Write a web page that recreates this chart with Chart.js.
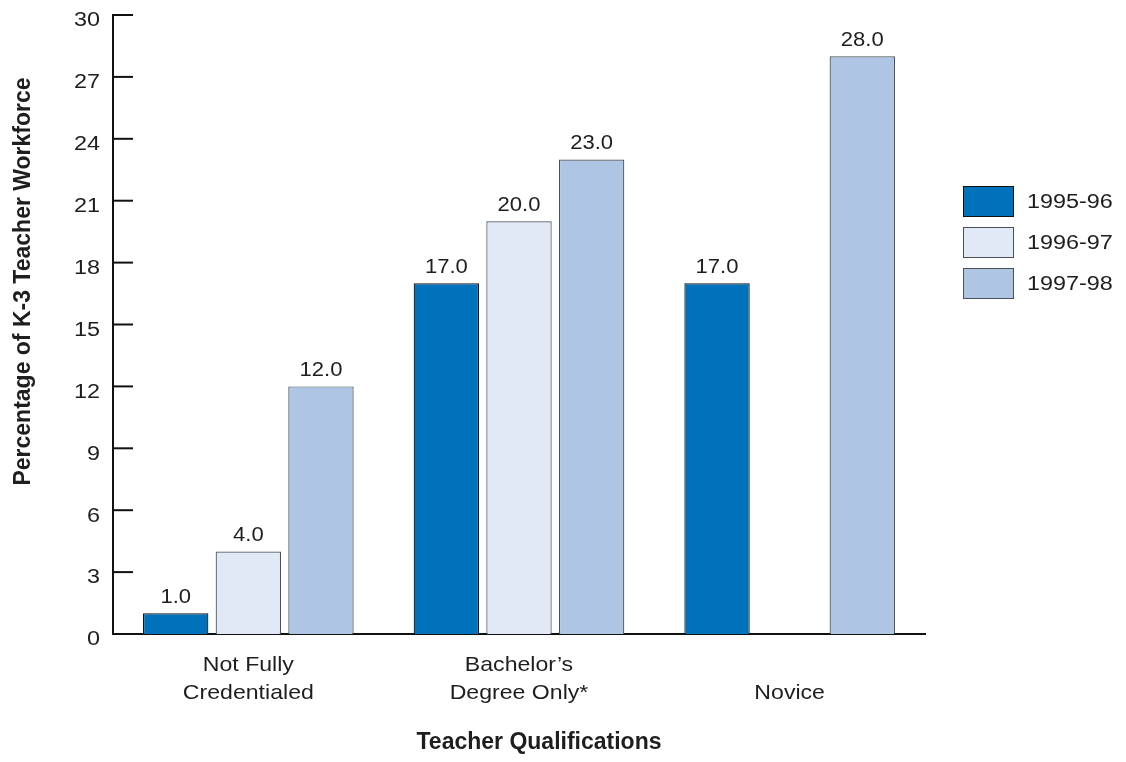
<!DOCTYPE html>
<html>
<head>
<meta charset="utf-8">
<script src="https://cdn.jsdelivr.net/npm/chart.js@4/dist/chart.umd.min.js"></script>
<style>
  html, body { margin: 0; padding: 0; background: #fff; }
  #wrap { position: relative; width: 1126px; height: 762px; }
  #legend { position: absolute; left: 963px; top: 186px;
            font: 20px "Liberation Sans", Arial, Helvetica, sans-serif; color: #1e1e1e; }
  .item { display: flex; align-items: center; height: 31px; margin-bottom: 10px; }
  .swatch { box-sizing: border-box; width: 51px; height: 31px; border: 1.5px solid #3a3f47; margin-right: 13px; }
  .item span { display: inline-block; transform: scaleX(1.17); transform-origin: left center; }
</style>
</head>
<body>
<div id="wrap">
  <canvas id="chart" width="1126" height="762"></canvas>
  <div id="legend"></div>
</div>
<script>
// Teacher qualification categories (multi-line axis labels)
const categories = [["Not Fully", "Credentialed"], ["Bachelor’s", "Degree Only*"], ["", "Novice"]];
const seriesNames = ["1995-96", "1996-97", "1997-98"];

// Percentage of K-3 teacher workforce per school year
const values9596 = [1.0, 17.0, 17.0];
const values9697 = [4.0, 20.0, null];
const values9798 = [12.0, 23.0, 28.0];

// Value axis ticks
const yMin = 0;
const yMax = 30;
const yStep = 3;

const fillColors = ["#0072bc", "#e2e9f6", "#aec6e4"];
const edgeColors = ["#111111", "#4a5058", "#4a5058"];
const FONT = '"Liberation Sans", Arial, Helvetica, sans-serif';
const TEXT = "#1e1e1e";

Chart.defaults.font.family = FONT;
Chart.defaults.color = TEXT;

// Draws text with a slightly widened letterform
function wideText(ctx, text, x, y, align, sx) {
  ctx.save();
  ctx.translate(x, y);
  ctx.scale(sx, 1);
  ctx.textAlign = align;
  ctx.fillText(text, 0, 0);
  ctx.restore();
}

// Value-axis tick marks (pointing into the plot) and their labels
const valueAxis = {
  id: "valueAxis",
  afterDraw(chart) {
    const y = chart.scales.y;
    const ctx = chart.ctx;
    ctx.save();
    ctx.strokeStyle = "#111";
    ctx.lineWidth = 2;
    ctx.font = "19.5px " + FONT;
    ctx.fillStyle = TEXT;
    ctx.textBaseline = "middle";
    y.ticks.forEach(t => {
      const py = y.getPixelForValue(t.value);
      ctx.beginPath();
      ctx.moveTo(y.right, py);
      ctx.lineTo(y.right + 20, py);
      ctx.stroke();
      wideText(ctx, String(t.value), y.right - 13, py + 6, "right", 1.2);
    });
    ctx.restore();
  }
};

// Category labels under each group
const categoryAxis = {
  id: "categoryAxis",
  afterDraw(chart) {
    const x = chart.scales.x;
    const ctx = chart.ctx;
    ctx.save();
    ctx.font = "21px " + FONT;
    ctx.fillStyle = TEXT;
    ctx.textBaseline = "middle";
    chart.data.labels.forEach((lines, i) => {
      const px = x.getPixelForTick(i);
      lines.forEach((line, k) => {
        if (line) wideText(ctx, line, px, x.top + 31 + k * 28, "center", 1.1);
      });
    });
    ctx.restore();
  }
};

// Value labels above each bar
const barValues = {
  id: "barValues",
  afterDatasetsDraw(chart) {
    const ctx = chart.ctx;
    ctx.save();
    ctx.font = "19.5px " + FONT;
    ctx.fillStyle = TEXT;
    ctx.textBaseline = "alphabetic";
    chart.data.datasets.forEach((ds, i) => {
      chart.getDatasetMeta(i).data.forEach((el, j) => {
        const v = ds.data[j];
        if (v === null || v === undefined) return;
        wideText(ctx, v.toFixed(1), el.x, el.y - 10.5, "center", 1.13);
      });
    });
    ctx.restore();
  }
};

// Axis titles
const axisTitles = {
  id: "axisTitles",
  afterDraw(chart) {
    const ctx = chart.ctx;
    ctx.save();
    ctx.font = "bold 23px " + FONT;
    ctx.fillStyle = TEXT;
    ctx.textAlign = "center";
    ctx.textBaseline = "middle";
    ctx.fillText("Teacher Qualifications", 539, 743);
    ctx.translate(23.5, 281.5);
    ctx.rotate(-Math.PI / 2);
    ctx.fillText("Percentage of K-3 Teacher Workforce", 0, 0);
    ctx.restore();
  }
};

const seriesData = [values9596, values9697, values9798];

new Chart(document.getElementById("chart"), {
  type: "bar",
  data: {
    labels: categories,
    datasets: seriesNames.map((name, i) => ({
      label: name,
      data: seriesData[i],
      backgroundColor: fillColors[i],
      borderColor: edgeColors[i],
      borderWidth: 1.2,
      borderSkipped: "start",
      categoryPercentage: 0.805,
      barPercentage: 0.9
    }))
  },
  options: {
    responsive: false,
    animation: false,
    layout: { padding: { top: 15, right: 201, left: 0, bottom: 0 } },
    plugins: {
      legend: { display: false },
      tooltip: { enabled: false }
    },
    scales: {
      x: {
        grid: { display: false, drawTicks: false },
        border: { display: true, color: "#111", width: 2 },
        ticks: { display: false },
        afterFit(scale) { scale.height = 128; }
      },
      y: {
        min: yMin,
        max: yMax,
        grid: { display: false, drawTicks: false },
        border: { display: true, color: "#111", width: 2 },
        ticks: { display: false, stepSize: yStep },
        afterFit(scale) { scale.width = 113; scale.paddingTop = 0; scale.paddingBottom = 0; }
      }
    }
  },
  plugins: [valueAxis, categoryAxis, barValues, axisTitles]
});

// Legend entries built from the series names and colours
const legend = document.getElementById("legend");
seriesNames.forEach((name, i) => {
  const row = document.createElement("div");
  row.className = "item";
  const sw = document.createElement("div");
  sw.className = "swatch";
  sw.style.background = fillColors[i];
  sw.style.borderColor = edgeColors[i];
  const label = document.createElement("span");
  label.textContent = name;
  row.appendChild(sw);
  row.appendChild(label);
  legend.appendChild(row);
});
</script>
</body>
</html>
